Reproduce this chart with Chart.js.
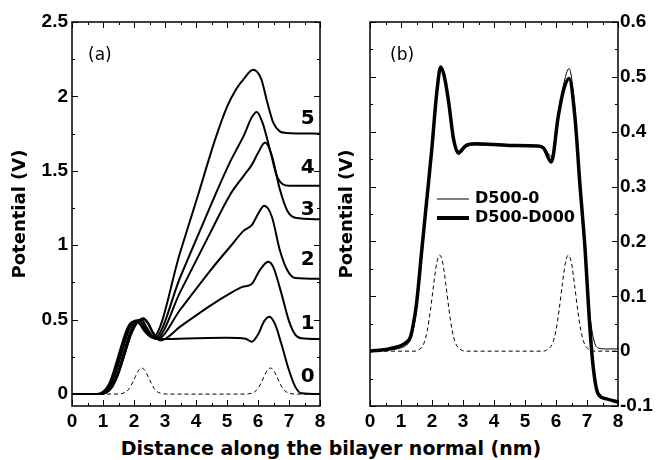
<!DOCTYPE html>
<html>
<head>
<meta charset="utf-8">
<script src="https://cdn.jsdelivr.net/npm/chart.js@4.4.0/dist/chart.umd.min.js"></script>
<style>
  body { margin: 0; background: #fff; }
  #wrap { position: relative; width: 657px; height: 460px; overflow: hidden; }
  #leftBox { position: absolute; left: 0; top: 0; width: 330px; height: 430px; }
  #rightBox { position: absolute; left: 330px; top: 0; width: 327px; height: 430px; }
  #xTitle { position: absolute; left: 0; top: 437px; width: 662px; text-align: center;
            font: bold 19px "DejaVu Sans"; line-height: 22px; color: #000; }
</style>
</head>
<body>
<div id="wrap">
  <div id="leftBox"><canvas id="left-graphic"></canvas></div>
  <div id="rightBox"><canvas id="right-graphic"></canvas></div>
  <div id="xTitle">Distance along the bilayer normal (nm)</div>
</div>
<script>
// ticks
const xTicks = [0, 1, 2, 3, 4, 5, 6, 7, 8];
const xLabels = ['0', '1', '2', '3', '4', '5', '6', '7', '8'];
const xMinor = [0.5, 1.5, 2.5, 3.5, 4.5, 5.5, 6.5, 7.5];
const yTicksA = [0, 0.5, 1, 1.5, 2, 2.5];
const yLabelsA = ['0', '0.5', '1', '1.5', '2', '2.5'];
const yMinorA = [0.25, 0.75, 1.25, 1.75, 2.25];
const yTicksB = [-0.1, 0, 0.1, 0.2, 0.3, 0.4, 0.5, 0.6];
const yLabelsB = ['-0.1', '0', '0.1', '0.2', '0.3', '0.4', '0.5', '0.6'];
const yMinorB = [-0.05, 0.05, 0.15, 0.25, 0.35, 0.45, 0.55];

// panel (a): potential for the six cases
const x0 = [0, 0.9, 1.1, 1.3, 1.5, 1.7, 1.9, 2.1, 2.3, 2.45, 2.6, 2.8, 3.1, 4.0, 5.0, 5.6, 5.8, 6.0, 6.2, 6.37, 6.55, 6.75, 7.0, 7.2, 7.4, 8.0];
const v0 = [0, 0, 0.01, 0.05, 0.14, 0.27, 0.4, 0.48, 0.51, 0.48, 0.42, 0.37, 0.37, 0.375, 0.378, 0.372, 0.352, 0.4, 0.49, 0.52, 0.47, 0.34, 0.16, 0.05, 0.005, 0];
const x1 = [0, 0.9, 1.1, 1.3, 1.5, 1.7, 1.9, 2.1, 2.3, 2.45, 2.6, 2.85, 3.5, 4.5, 5.1, 5.5, 5.8, 6.05, 6.33, 6.5, 6.75, 7.0, 7.2, 7.4, 8.0];
const v1 = [0, 0, 0.01, 0.05, 0.14, 0.27, 0.4, 0.48, 0.505, 0.475, 0.41, 0.36, 0.455, 0.6, 0.677, 0.72, 0.74, 0.83, 0.889, 0.85, 0.68, 0.49, 0.4, 0.375, 0.37];
const x2 = [0, 0.9, 1.1, 1.3, 1.5, 1.7, 1.9, 2.1, 2.25, 2.4, 2.55, 2.75, 3.5, 4.5, 5.1, 5.55, 5.8, 6.0, 6.2, 6.45, 6.7, 6.95, 7.2, 8.0];
const v2 = [0, 0, 0.012, 0.06, 0.16, 0.3, 0.43, 0.495, 0.5, 0.45, 0.4, 0.37, 0.57, 0.84, 0.99, 1.1, 1.135, 1.21, 1.265, 1.19, 0.97, 0.83, 0.78, 0.775];
const x3 = [0, 0.85, 1.05, 1.25, 1.45, 1.65, 1.85, 2.05, 2.2, 2.4, 2.7, 3.5, 4.5, 5.1, 5.55, 5.8, 6.0, 6.23, 6.45, 6.7, 6.95, 7.2, 8.0];
const v3 = [0, 0, 0.012, 0.06, 0.17, 0.31, 0.44, 0.495, 0.49, 0.43, 0.37, 0.69, 1.1, 1.34, 1.47, 1.54, 1.62, 1.69, 1.6, 1.38, 1.23, 1.185, 1.175];
const x4 = [0, 0.85, 1.05, 1.25, 1.45, 1.65, 1.85, 2.05, 2.2, 2.4, 2.65, 3.5, 4.5, 5.1, 5.35, 5.55, 5.8, 5.96, 6.15, 6.4, 6.6, 6.8, 7.0, 8.0];
const v4 = [0, 0, 0.015, 0.07, 0.19, 0.33, 0.45, 0.49, 0.47, 0.42, 0.375, 0.79, 1.28, 1.56, 1.66, 1.74, 1.86, 1.895, 1.82, 1.63, 1.47, 1.41, 1.4, 1.4];
const x5 = [0, 0.8, 1.0, 1.2, 1.4, 1.6, 1.8, 2.0, 2.15, 2.35, 2.6, 3.5, 4.1, 4.6, 5.0, 5.3, 5.55, 5.84, 6.1, 6.3, 6.5, 6.7, 6.9, 8.0];
const v5 = [0, 0, 0.015, 0.07, 0.19, 0.33, 0.45, 0.49, 0.48, 0.42, 0.38, 0.96, 1.36, 1.7, 1.93, 2.05, 2.12, 2.18, 2.12, 1.96, 1.82, 1.765, 1.755, 1.75];
const curveNames = ['0', '1', '2', '3', '4', '5'];
const curveLabelY = [0.116, 0.475, 0.9, 1.24, 1.518, 1.849];
const curveLabelX = 7.6;

// dashed density profile (both panels)
const xd = [0, 1.45, 1.55, 1.65, 1.75, 1.85, 1.95, 2.05, 2.15, 2.25, 2.35, 2.45, 2.55, 2.65, 2.75, 2.85, 2.95, 3.05,
            5.6, 5.7, 5.8, 5.9, 6.0, 6.1, 6.2, 6.3, 6.4, 6.5, 6.6, 6.7, 6.8, 6.9, 7.0, 7.1, 7.2, 8.0];
const vd = [0, 0, 0.002, 0.006, 0.016, 0.038, 0.075, 0.12, 0.16, 0.175, 0.16, 0.12, 0.075, 0.038, 0.016, 0.006, 0.002, 0,
            0, 0.002, 0.006, 0.016, 0.038, 0.075, 0.12, 0.16, 0.175, 0.16, 0.12, 0.075, 0.038, 0.016, 0.006, 0.002, 0, 0];

// panel (b)
const xn = [0, 0.6, 1.0, 1.15, 1.3, 1.4, 1.5, 1.67, 1.83, 1.99, 2.15, 2.28, 2.4, 2.53, 2.7, 2.85, 3.1, 3.4, 4.5, 5.4, 5.6, 5.85, 6.07, 6.24, 6.42, 6.6, 6.77, 6.94, 7.07, 7.2, 7.35, 7.6, 8.0];
const vn = [0, 0.002, 0.006, 0.01, 0.02, 0.04, 0.075, 0.17, 0.265, 0.36, 0.465, 0.517, 0.5, 0.455, 0.38, 0.358, 0.372, 0.376, 0.374, 0.374, 0.372, 0.355, 0.43, 0.485, 0.515, 0.45, 0.315, 0.19, 0.08, 0.025, 0.006, 0.004, 0.004];
const xk = [0, 0.6, 1.0, 1.15, 1.3, 1.4, 1.5, 1.67, 1.83, 1.99, 2.15, 2.28, 2.4, 2.53, 2.7, 2.85, 3.1, 3.4, 4.5, 5.4, 5.6, 5.85, 6.07, 6.24, 6.42, 6.61, 6.77, 6.94, 7.07, 7.2, 7.36, 7.63, 8.0];
const vk = [0, 0.004, 0.01, 0.015, 0.025, 0.05, 0.086, 0.184, 0.275, 0.366, 0.469, 0.518, 0.5, 0.457, 0.385, 0.362, 0.375, 0.378, 0.375, 0.374, 0.37, 0.345, 0.427, 0.475, 0.497, 0.427, 0.305, 0.184, 0.062, -0.029, -0.078, -0.087, -0.093];
const legendNames = ['D500-0', 'D500-D000'];

const pts = (xs, ys) => xs.map((x, i) => ({ x: x, y: ys[i] }));
const boldFont = (size, fam) => ({ family: fam || 'DejaVu Sans', weight: 'bold', size: size });

function solid(name, xs, ys, w, axis) {
  return { label: name, data: pts(xs, ys), borderColor: '#000', borderWidth: w, pointRadius: 0,
           fill: false, cubicInterpolationMode: 'monotone', yAxisID: axis || 'y' };
}
function dashed(axis) {
  return { label: 'density', data: pts(xd, vd), borderColor: '#000', borderWidth: 1, borderDash: [4, 3],
           pointRadius: 0, fill: false, cubicInterpolationMode: 'monotone', yAxisID: axis || 'y' };
}

// frame + inward ticks on all four sides
const frame = {
  id: 'frame',
  afterDatasetsDraw(chart, args, opts) {
    const { ctx, chartArea: a } = chart;
    const sx = chart.scales.x, sy = chart.scales.y;
    ctx.save();
    ctx.strokeStyle = '#000';
    ctx.lineWidth = 1;
    const vt = (vals, len) => vals.forEach(v => {
      const p = Math.round(sx.getPixelForValue(v)) + 0.5;
      ctx.beginPath();
      ctx.moveTo(p, a.bottom); ctx.lineTo(p, a.bottom - len);
      ctx.moveTo(p, a.top); ctx.lineTo(p, a.top + len);
      ctx.stroke();
    });
    const ht = (vals, len) => vals.forEach(v => {
      const p = Math.round(sy.getPixelForValue(v)) + 0.5;
      ctx.beginPath();
      ctx.moveTo(a.left, p); ctx.lineTo(a.left + len, p);
      ctx.moveTo(a.right, p); ctx.lineTo(a.right - len, p);
      ctx.stroke();
    });
    vt(xTicks, 6); vt(xMinor, 3);
    ht(opts.major, 6); ht(opts.minor, 3);
    ctx.lineWidth = 1.5;
    ctx.strokeRect(a.left, a.top, a.right - a.left, a.bottom - a.top);

    ctx.fillStyle = '#000';
    ctx.textBaseline = 'middle';
    ctx.textAlign = 'left';
    ctx.font = '17px "DejaVu Sans"';
    ctx.fillText(opts.panel, a.left + opts.panelDx, a.top + 34);

    if (opts.curveLabels) {
      ctx.font = 'bold 20px "DejaVu Sans"';
      ctx.textAlign = 'center';
      curveNames.forEach((t, i) => {
        ctx.fillText(t, sx.getPixelForValue(curveLabelX), sy.getPixelForValue(curveLabelY[i]));
      });
    }
    if (opts.legend) {
      ctx.font = 'bold 16px "DejaVu Sans"';
      ctx.textAlign = 'left';
      const rows = [[legendNames[0], 1, 199], [legendNames[1], 4, 218]];
      rows.forEach(r => {
        ctx.lineWidth = r[1];
        ctx.beginPath();
        ctx.moveTo(a.left + 67, r[2]); ctx.lineTo(a.left + 99, r[2]);
        ctx.stroke();
        ctx.fillText(r[0], a.left + 105, r[2]);
      });
    }
    ctx.restore();
  }
};

const tickFont = boldFont(19, 'Liberation Sans');

function xScale() {
  return {
    type: 'linear', min: 0, max: 8,
    afterBuildTicks: s => { s.ticks = xTicks.map(v => ({ value: v })); },
    afterFit: s => { s.height = 24; },
    grid: { display: false, drawTicks: false }, border: { display: false },
    ticks: { padding: 4, color: '#000', font: tickFont, autoSkip: false, maxRotation: 0,
             callback: (v, i) => xLabels[i] }
  };
}

new Chart(document.getElementById('left-graphic'), {
  type: 'line',
  data: {
    datasets: [
      dashed(),
      solid('0', x0, v0, 2), solid('1', x1, v1, 2), solid('2', x2, v2, 2),
      solid('3', x3, v3, 2), solid('4', x4, v4, 2), solid('5', x5, v5, 2)
    ]
  },
  options: {
    responsive: true, maintainAspectRatio: false, animation: false,
    layout: { padding: { top: 22, right: 10, left: 0, bottom: 0 } },
    plugins: { legend: { display: false }, tooltip: { enabled: false },
               frame: { major: yTicksA, minor: yMinorA, panel: '(a)', panelDx: 16, curveLabels: true } },
    scales: {
      x: xScale(),
      y: {
        min: -0.08, max: 2.5,
        afterBuildTicks: s => { s.ticks = yTicksA.map(v => ({ value: v })); },
        afterFit: s => { s.width = 72; },
        grid: { display: false, drawTicks: false }, border: { display: false },
        title: { display: true, text: 'Potential (V)', color: '#000', font: boldFont(18), padding: { top: 10, bottom: 0 } },
        ticks: { padding: 4, color: '#000', font: tickFont, callback: (v, i) => yLabelsA[i] }
      }
    }
  },
  plugins: [frame]
});

new Chart(document.getElementById('right-graphic'), {
  type: 'line',
  data: {
    datasets: [
      dashed(),
      solid(legendNames[0], xn, vn, 1),
      solid(legendNames[1], xk, vk, 3.5)
    ]
  },
  options: {
    responsive: true, maintainAspectRatio: false, animation: false,
    layout: { padding: { top: 22, right: 0, left: 0, bottom: 0 } },
    plugins: { legend: { display: false }, tooltip: { enabled: false },
               frame: { major: yTicksB, minor: yMinorB, panel: '(b)', panelDx: 20, legend: true } },
    scales: {
      x: xScale(),
      yl: {
        position: 'left', min: -0.1, max: 0.6,
        afterFit: s => { s.width = 40; },
        grid: { display: false, drawTicks: false }, border: { display: false },
        ticks: { display: false },
        title: { display: true, text: 'Potential (V)', color: '#000', font: boldFont(18), padding: { top: 7, bottom: 0 } }
      },
      y: {
        position: 'right', min: -0.1, max: 0.6,
        afterBuildTicks: s => { s.ticks = yTicksB.map(v => ({ value: v })); },
        afterFit: s => { s.width = 39; },
        grid: { display: false, drawTicks: false }, border: { display: false },
        ticks: { padding: 2, color: '#000', font: tickFont, callback: (v, i) => yLabelsB[i] }
      }
    }
  },
  plugins: [frame]
});
</script>
</body>
</html>
